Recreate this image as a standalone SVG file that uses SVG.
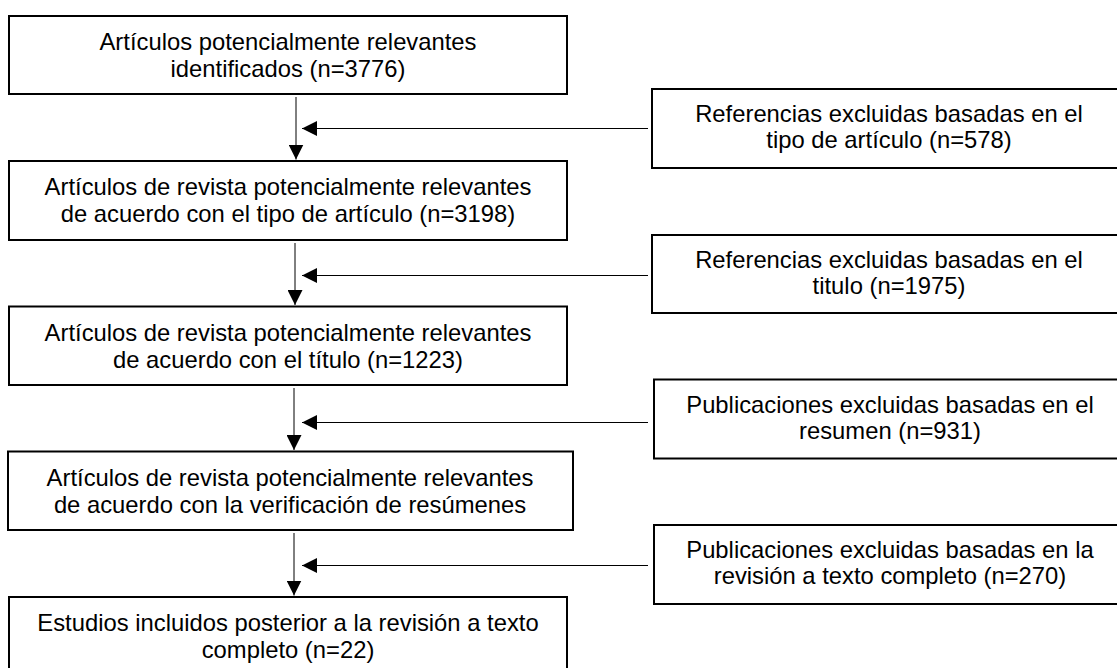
<svg xmlns="http://www.w3.org/2000/svg" width="1117" height="668" viewBox="0 0 1117 668">
<defs>
<marker id="arr" markerUnits="userSpaceOnUse" markerWidth="15" markerHeight="15" viewBox="0 0 15 15" refX="15" refY="7.5" orient="auto">
<path d="M0,0 L15,7.5 L0,15 Z" fill="#000"/>
</marker>
<style>
.box{fill:#fff;stroke:#000;stroke-width:2}
.t{font-family:"Liberation Sans",Arial,sans-serif;font-size:23.8px;fill:#000;text-anchor:middle}
.c{stroke:#000;stroke-width:1;fill:none;marker-end:url(#arr)}
</style>
</defs>
<rect width="1117" height="668" fill="#fff"/>
<g id="connectors">
<line class="c" x1="296" y1="97" x2="296" y2="159.5"/>
<line class="c" x1="295" y1="243" x2="295" y2="305"/>
<line class="c" x1="294" y1="388" x2="294" y2="450"/>
<line class="c" x1="294" y1="533" x2="294" y2="595.5"/>
<line class="c" x1="648" y1="128.5" x2="302" y2="128.5"/>
<line class="c" x1="648" y1="275.5" x2="302" y2="275.5"/>
<line class="c" x1="648" y1="422.5" x2="302" y2="422.5"/>
<line class="c" x1="648" y1="565.5" x2="302" y2="565.5"/>
</g>
<g id="n1">
<rect class="box" x="9" y="16" width="558" height="78"/>
<text class="t" x="288" y="50">Artículos potencialmente relevantes</text>
<text class="t" x="288" y="77">identificados (n=3776)</text>
</g>
<g id="n2">
<rect class="box" x="9" y="161" width="558" height="79"/>
<text class="t" x="288" y="195">Artículos de revista potencialmente relevantes</text>
<text class="t" x="288" y="222">de acuerdo con el tipo de artículo (n=3198)</text>
</g>
<g id="n3">
<rect class="box" x="9" y="306.5" width="558" height="78.5"/>
<text class="t" x="288" y="340.5">Artículos de revista potencialmente relevantes</text>
<text class="t" x="288" y="367.5">de acuerdo con el título (n=1223)</text>
</g>
<g id="n4">
<rect class="box" x="8" y="451.5" width="565" height="78.5"/>
<text class="t" x="290" y="485.5">Artículos de revista potencialmente relevantes</text>
<text class="t" x="290" y="512.5">de acuerdo con la verificación de resúmenes</text>
</g>
<g id="n5">
<rect class="box" x="9" y="597" width="558" height="78"/>
<text class="t" x="288" y="631">Estudios incluidos posterior a la revisión a texto</text>
<text class="t" x="288" y="658">completo (n=22)</text>
</g>
<g id="r1">
<rect class="box" x="652" y="89" width="474" height="79"/>
<text class="t" x="889" y="122">Referencias excluidas basadas en el</text>
<text class="t" x="889" y="148">tipo de artículo (n=578)</text>
</g>
<g id="r2">
<rect class="box" x="652" y="235" width="474" height="78"/>
<text class="t" x="889" y="268">Referencias excluidas basadas en el</text>
<text class="t" x="889" y="294">titulo (n=1975)</text>
</g>
<g id="r3">
<rect class="box" x="654" y="379.5" width="472" height="79"/>
<text class="t" x="890" y="412.5">Publicaciones excluidas basadas en el</text>
<text class="t" x="890" y="438.5">resumen (n=931)</text>
</g>
<g id="r4">
<rect class="box" x="654" y="525" width="472" height="79"/>
<text class="t" x="890" y="558">Publicaciones excluidas basadas en la</text>
<text class="t" x="890" y="584">revisión a texto completo (n=270)</text>
</g>
</svg>
